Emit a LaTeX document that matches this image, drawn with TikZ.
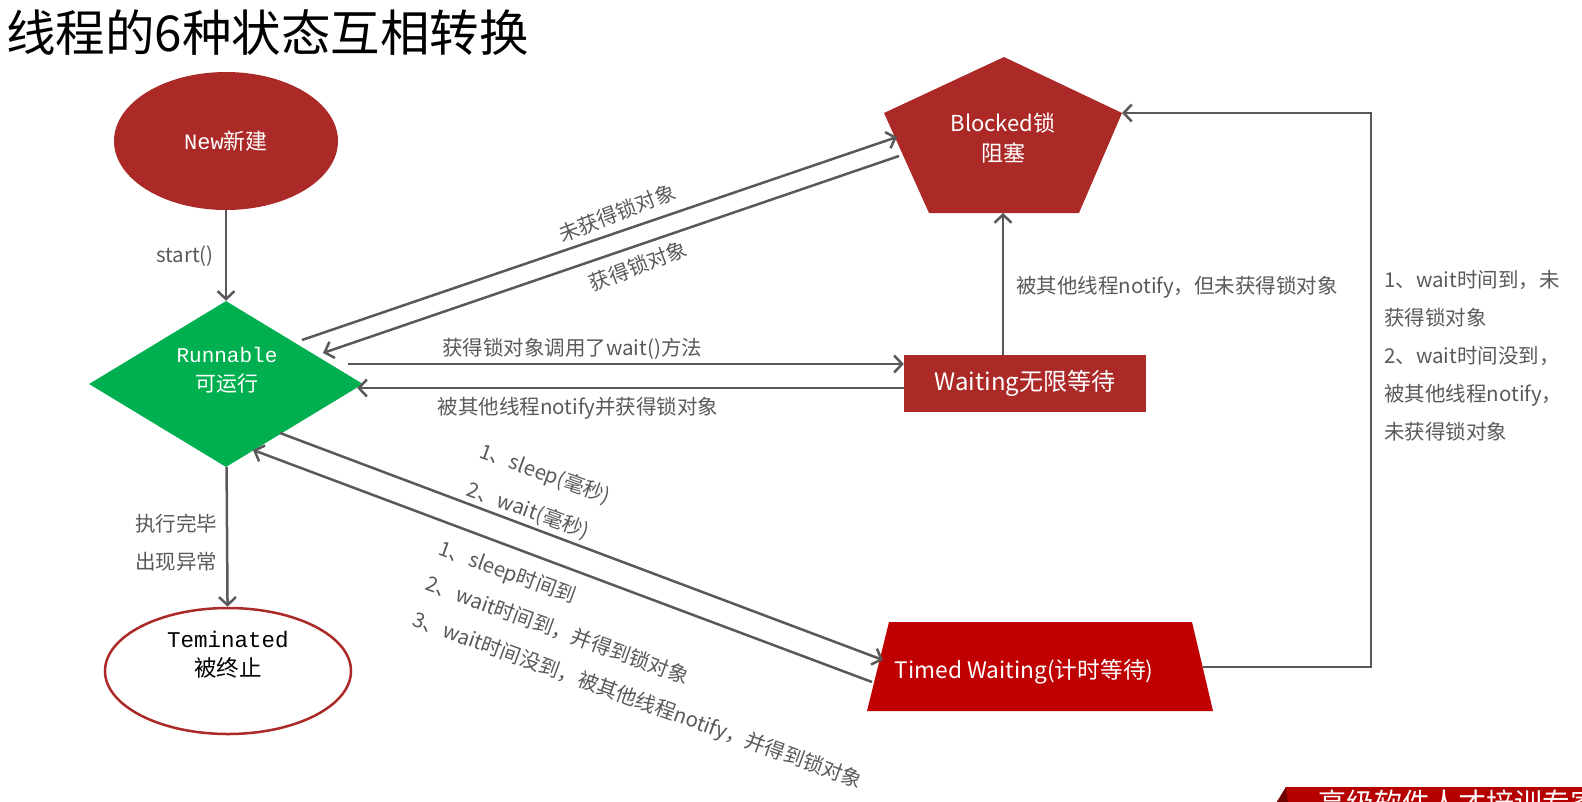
\documentclass[tikz,border=0pt]{standalone}
\usepackage{fontspec}
\setmainfont{Noto Sans CJK SC}
\newfontfamily\monofont{Liberation Mono}
\usetikzlibrary{shapes.geometric,arrows.meta,calc}

\definecolor{stred}{HTML}{AB2A28}
\definecolor{twred}{HTML}{C00000}
\definecolor{rgreen}{HTML}{00B050}
\definecolor{lgray}{HTML}{595959}
\definecolor{bandred}{HTML}{B40000}
\definecolor{banddark}{HTML}{6E0000}

\tikzset{
  state/.style={text=white, inner sep=0pt, align=center, font=\fontsize{21}{29}\selectfont},
  arr/.style={draw=lgray, line width=2.5pt, -{Straight Barb[length=8pt,width=17pt]}},
  lbl/.style={text=lgray, inner sep=0pt, font=\fontsize{20.5}{38}\selectfont},
}

\begin{document}
\begin{tikzpicture}[x=1pt,y=-1pt]
  \useasboundingbox (0,0) rectangle (1582,801);
  \node[anchor=west, inner sep=0pt, font=\fontsize{49.5}{56}\selectfont] (title) at (6,33) {线程的6种状态互相转换};

  % states
  \node[ellipse, fill=stred, minimum width=224, minimum height=138, state, font=\fontsize{22}{29}\selectfont] (new) at (226,141) {{\monofont New}新建};
  \node[diamond, fill=rgreen, minimum width=274, minimum height=166, inner sep=0pt] (runnable) at (226,384) {};
  \node[state] (runtxt) at (227,370) {{\monofont Runnable}\\可运行};
  \node[ellipse, draw=stred, line width=2.5pt, fill=white, minimum width=246, minimum height=126, inner sep=0pt] (term) at (228,671) {};
  \node[state, text=black, font=\fontsize{22.5}{29}\selectfont] (termtxt) at (228,655) {{\monofont Teminated}\\被终止};
  \node[rectangle, fill=stred, minimum width=242, minimum height=57, state, font=\fontsize{24}{28}\selectfont] (waiting) at (1025,383.5) {Waiting无限等待};

  % blocked pentagon
  \coordinate (bt) at (1004,57);
  \coordinate (bl) at (884,113);
  \coordinate (br) at (1122,113);
  \coordinate (bbl) at (929,213);
  \coordinate (bbr) at (1079,213);
  \fill[stred] (bt) -- (br) -- (bbr) -- (bbl) -- (bl) -- cycle;
  \node[state, font=\fontsize{22}{30}\selectfont] (blocked) at (1003,138) {Blocked锁\\阻塞};

  % timed waiting trapezium
  \coordinate (ttl) at (889,622);
  \coordinate (ttr) at (1192,622);
  \coordinate (tbl) at (867,711);
  \coordinate (tbr) at (1213,711);
  \fill[twred] (ttl) -- (ttr) -- (tbr) -- (tbl) -- cycle;
  \node[state, font=\fontsize{22.7}{28}\selectfont] (timed) at (1024,672) {Timed Waiting(计时等待)};

  % ends on the shapes
  \coordinate (r1) at (302,340);
  \coordinate (r2) at (323,353);
  \coordinate (r3) at (280,433);
  \coordinate (r4) at (253,450);
  \coordinate (b1) at (897,137);
  \coordinate (b2) at (899,156);
  \coordinate (bbot) at (1003,213);
  \coordinate (t1) at (883,660);
  \coordinate (t2) at (872,682);
  \coordinate (tout) at (1203,667);
  \coordinate (rail) at (1371,113);

  % connectors
  \draw[arr] (new) -- (runnable);
  \draw[arr] (runnable) -- (term);
  \draw[arr] (r1) -- (b1);
  \draw[arr] (b2) -- (r2);
  \draw[arr] ($(runnable.east)+(-15,-20)$) -- ($(waiting.west)+(0,-19.5)$);
  \draw[arr] ($(waiting.west)+(0,4.5)$) -- ($(runnable.east)+(-6,4)$);
  \draw[arr] (waiting.north -| bbot) -- (bbot);
  \draw[arr] (tout) -| (rail) -- (br);
  \draw[arr] (r3) -- (t1);
  \draw[arr] (t2) -- (r4);

  % labels
  \node[lbl] (startlbl) at (185,256) {start()};
  \node[lbl, align=center] (endlbl) at (176,543) {执行完毕\\出现异常};
  \node[lbl, rotate=21] (nolock) at (617,213) {未获得锁对象};
  \node[lbl, rotate=21] (getlock) at (638,266) {获得锁对象};
  \node[lbl] (waitcall) at (572,349) {获得锁对象调用了wait()方法};
  \node[lbl] (notified) at (578,408) {被其他线程notify并获得锁对象};
  \node[lbl, anchor=west] (notlock) at (1016,287) {被其他线程notify，但未获得锁对象};
  \node[lbl, anchor=west, rotate=-20] (sleep1) at (480,451) {1、sleep(毫秒)};
  \node[lbl, anchor=west, rotate=-20] (sleep2) at (468,489) {2、wait(毫秒)};
  \node[lbl, anchor=west, rotate=-20, align=left] (timeup) at (426,584) {1、sleep时间到\\2、wait时间到，并得到锁对象\\3、wait时间没到，被其他线程notify，并得到锁对象};
  \node[lbl, anchor=west, align=left] (tolbl) at (1384,356) {1、wait时间到，未\\获得锁对象\\2、wait时间没到，\\被其他线程notify，\\未获得锁对象};

  % banner in the corner
  \fill[bandred] (1286,787) -- (1600,787) -- (1600,820) -- (1266,820) -- cycle;
  \fill[banddark] (1286,787) -- (1266,820) -- (1290,820) -- cycle;
  \node[anchor=north west, inner sep=0pt, text=white, font=\fontsize{28}{30}\selectfont] (banner) at (1318,790) {高级软件人才培训专家};
\end{tikzpicture}
\end{document}
